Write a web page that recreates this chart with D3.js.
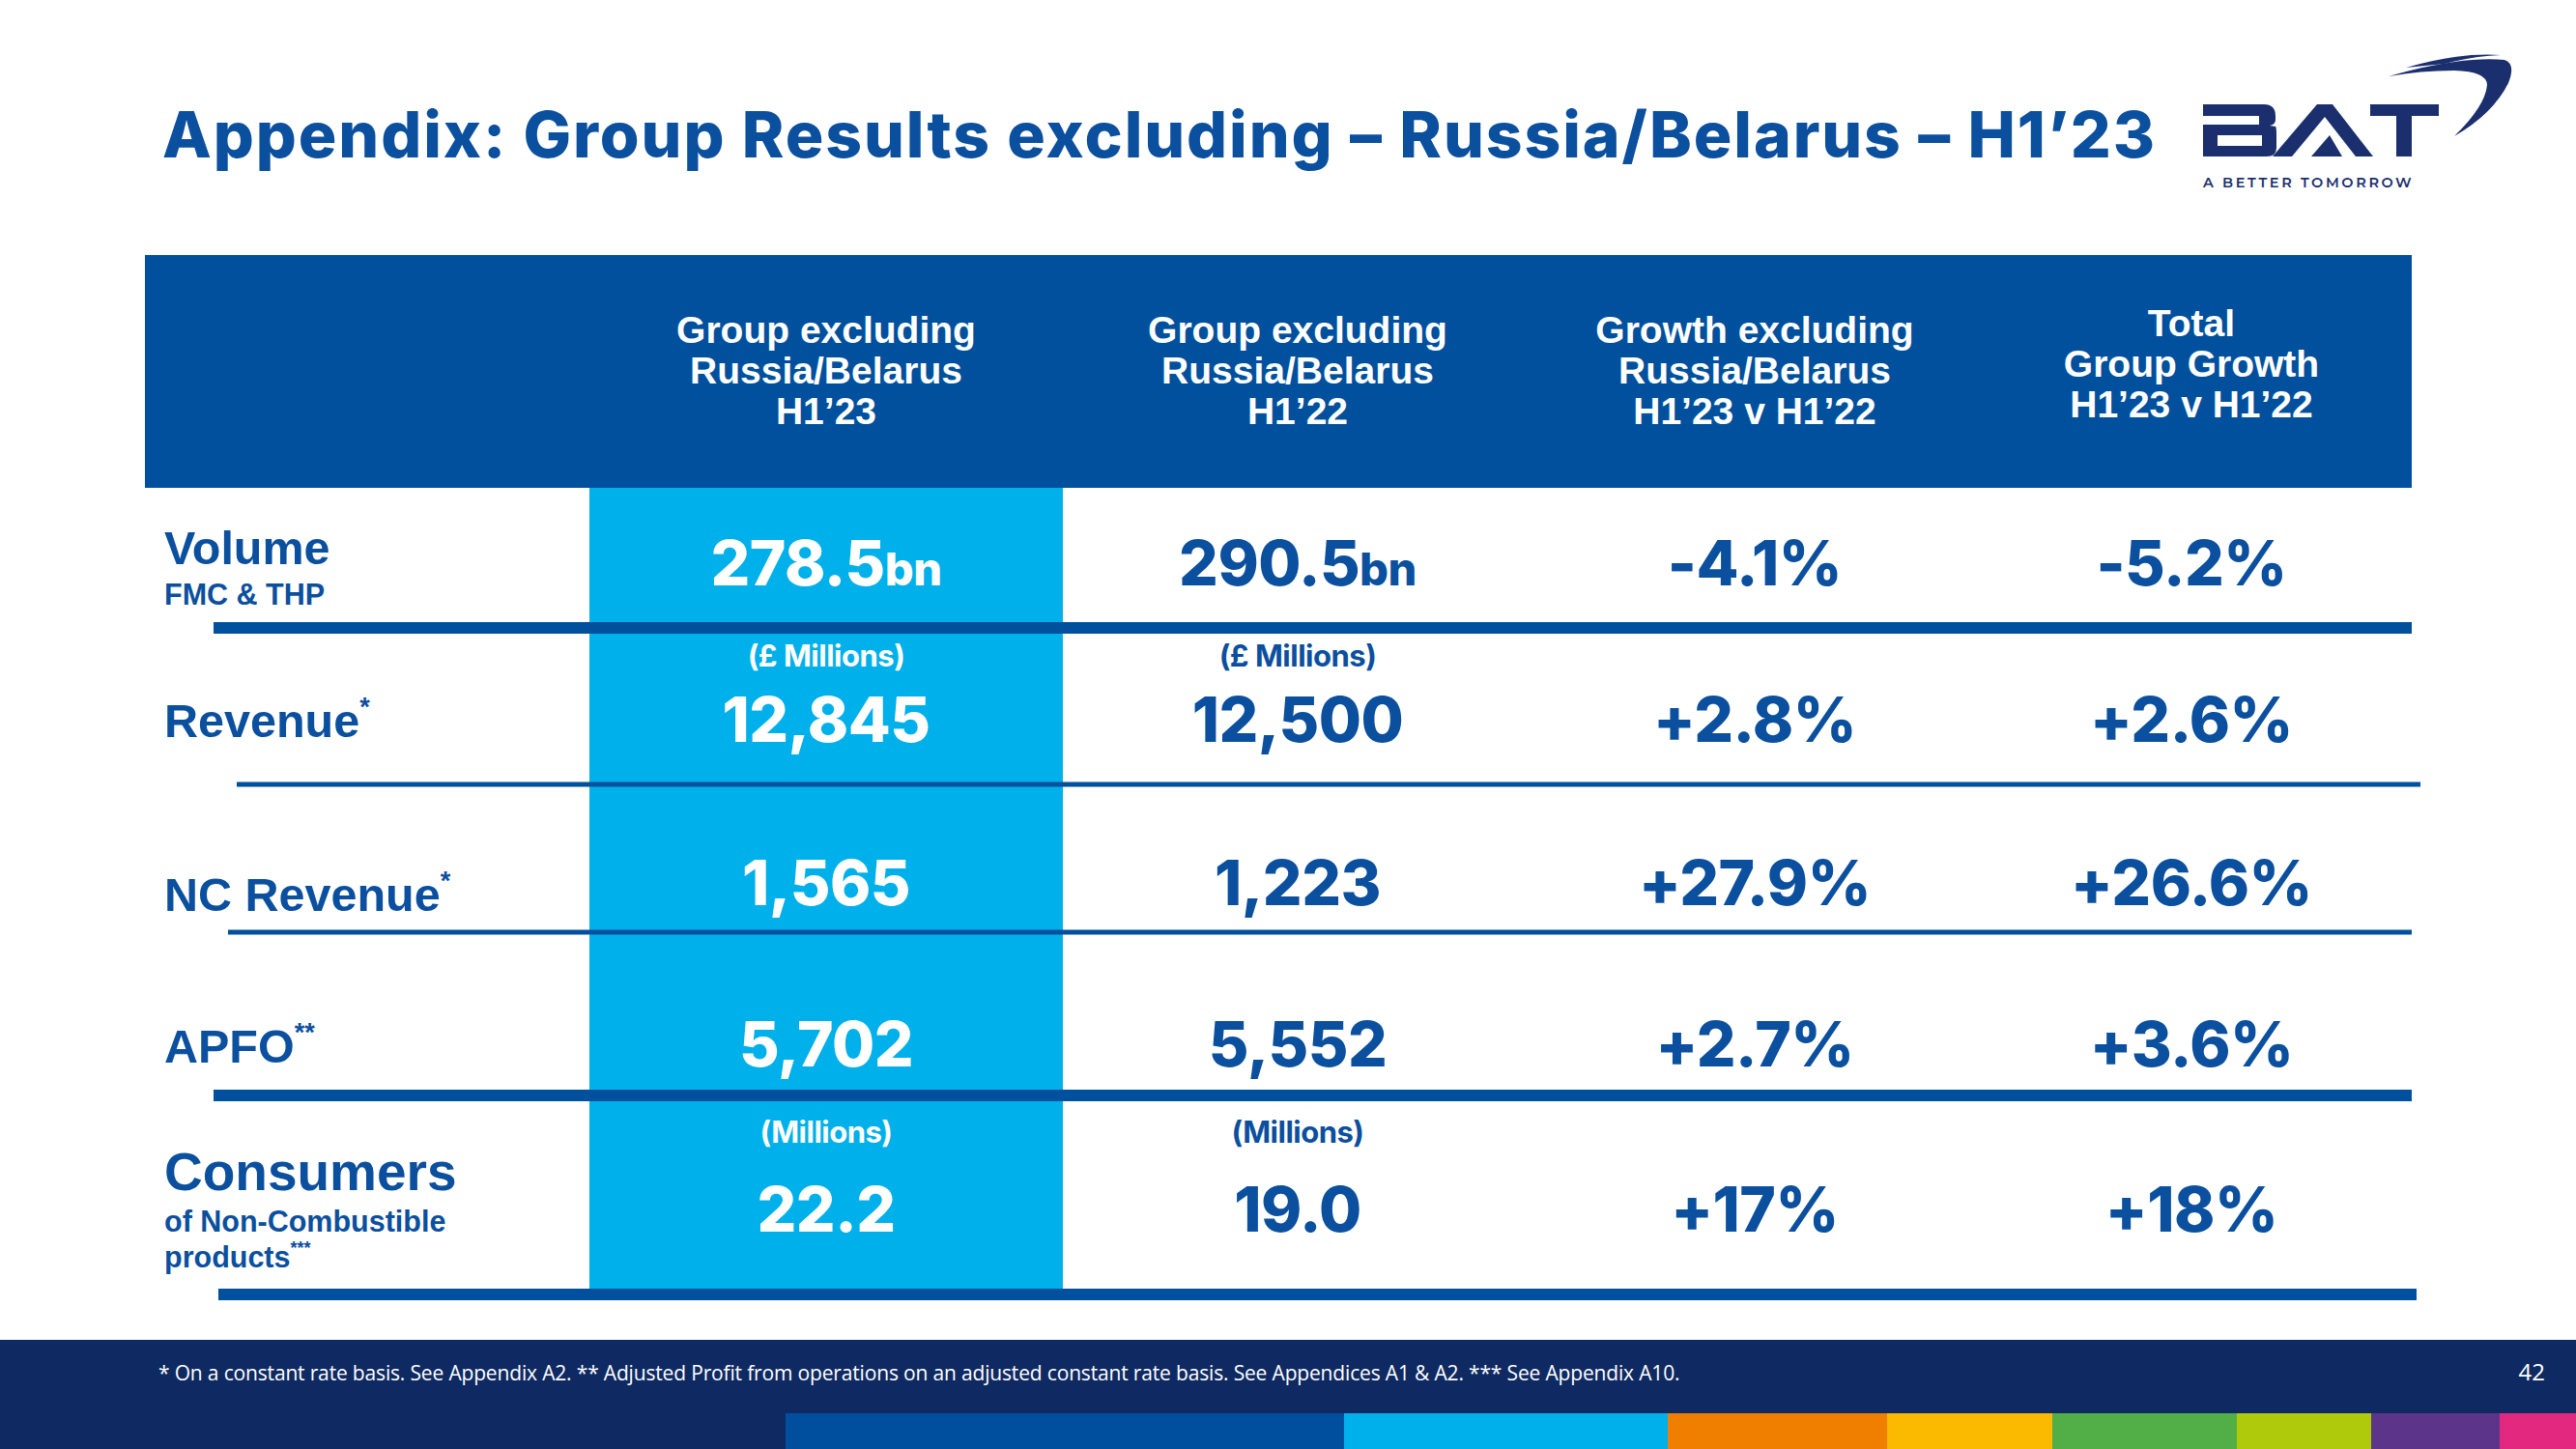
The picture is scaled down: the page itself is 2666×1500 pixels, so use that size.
<!DOCTYPE html>
<html>
<head>
<meta charset="utf-8">
<script src="https://cdn.jsdelivr.net/npm/d3@7"></script>
<style>
  html, body { margin: 0; padding: 0; background: #ffffff; }
  svg { display: block; }
</style>
</head>
<body>
<script>
// ---------------- DATA ----------------
const titleText = "Appendix: Group Results excluding – Russia/Belarus – H1’23";
const columnKeys = ["h123", "h122", "growthExcl", "growthTotal"];
const columnHeaders = [
  ["Group excluding", "Russia/Belarus", "H1’23"],
  ["Group excluding", "Russia/Belarus", "H1’22"],
  ["Growth excluding", "Russia/Belarus", "H1’23 v H1’22"],
  ["Total", "Group Growth", "H1’23 v H1’22"]
];
const metrics = ["Volume", "Revenue", "NC Revenue", "APFO", "Consumers"];
const metricMarks = ["", "*", "*", "**", ""];
const metricSubLabels = [["FMC & THP"], [], [], [], ["of Non-Combustible", "products"]];
const metricSubMarks = [[""], [], [], [], ["", "***"]];
const valuesH123 = ["278.5", "12,845", "1,565", "5,702", "22.2"];
const valuesH122 = ["290.5", "12,500", "1,223", "5,552", "19.0"];
const valueUnits = ["bn", "", "", "", ""];
const unitNotes = ["", "(£ Millions)", "", "", "(Millions)"];
const growthExcl = ["-4.1%", "+2.8%", "+27.9%", "+2.7%", "+17%"];
const growthTotal = ["-5.2%", "+2.6%", "+26.6%", "+3.6%", "+18%"];
const footnoteText = "*  On a constant rate basis.  See Appendix A2. ** Adjusted Profit from operations on an adjusted constant rate basis.  See Appendices A1 & A2. *** See Appendix A10.";
const pageNumber = "42";
const stripeColors = ["#004f9f", "#00b0ea", "#f07f00", "#fbb900", "#52ae46", "#afca0b", "#5c358a", "#e3287f"];

// ---------------- STYLE / LAYOUT ----------------
const W = 2666, H = 1500;
const BLUE = "#0b4f9f", HEADER = "#00509e", LIGHT = "#00b0ea", NAVY = "#0f2a62", LOGO = "#1b2f6e";
const LABEL_FONT = "'Liberation Sans', Arial, sans-serif";
const NUM_FONT = "Inter, 'Open Sans', sans-serif";
const TITLE_FONT = "Inter, 'Open Sans', sans-serif";

const svg = d3.select("body").append("svg").attr("width", W).attr("height", H);

// scales
const colX = d3.scaleOrdinal().domain(columnKeys).range([855, 1343, 1816, 2268]);
const colLeft = d3.scaleOrdinal().domain(columnKeys).range([610, 1100, 1580, 2050]);
const valueY = d3.scaleOrdinal().domain(metrics).range([606, 768, 937, 1104, 1275]);
const labelY = d3.scaleOrdinal().domain(metrics).range([584, 763, 943, 1100, 1232]);
const noteY = d3.scaleOrdinal().domain(metrics).range([0, 690, 0, 0, 1183]);
const headerLineY = d3.scaleOrdinal().domain([0, 1, 2]).range([355, 397, 439]);
const headerLineYLast = d3.scaleOrdinal().domain([0, 1, 2]).range([348, 390, 432]);
const stripeX = d3.scaleOrdinal().domain(d3.range(stripeColors.length))
  .range([813, 1391, 1726, 1953, 2124, 2315, 2454, 2587]);

function fitWidth(sel, target) {
  const n = sel.text().length;
  const w = sel.node().getComputedTextLength();
  sel.attr("letter-spacing", (target - w) / Math.max(1, n - 1));
}

// ---------------- TITLE ----------------
const title = svg.append("text")
  .attr("x", 168).attr("y", 163)
  .attr("font-family", TITLE_FONT).attr("font-weight", 800)
  .attr("font-size", 66).attr("fill", BLUE)
  .text(titleText);
fitWidth(title, 2062);

// ---------------- LOGO ----------------
const logo = svg.append("g").attr("fill", LOGO);
// B
logo.append("path").attr("d",
  "M2280,108 L2343,108 Q2355,108 2355,120 L2355,124 Q2355,129 2349,130 L2355,131 Q2356,131 2356,140 L2356,153 Q2356,162 2346,162 L2280,162 Z " +
  "M2295,140 L2341,140 L2341,151 L2295,151 Z " +
  "M2280,120 L2338,120 L2338,129 L2280,129 Z")
  .attr("fill-rule", "evenodd");
// A
logo.append("path").attr("d",
  "M2352,162 L2398,108 L2414,108 L2456,162 L2438,162 L2406,121 L2372,162 Z " +
  "M2392,162 L2411,140 L2424,162 Z");
// T
logo.append("path").attr("d", "M2453,108 L2524,108 L2524,120 L2496,120 L2496,162 L2480,162 L2480,120 L2453,120 Z");
// swoosh
logo.append("path").attr("d",
  "M2472,79 Q2545,58 2592,62 Q2604,66 2596,86 Q2580,118 2540,141 Q2572,110 2574,88 Q2574,74 2540,73 Q2505,73 2472,79 Z");
logo.append("path").attr("d",
  "M2490,70 Q2545,54 2588,57 Q2560,58 2530,66 Z");
svg.append("text")
  .attr("x", 2280).attr("y", 194)
  .attr("font-family", "Montserrat, 'Open Sans', sans-serif").attr("font-weight", 600)
  .attr("font-size", 14.5).attr("letter-spacing", 2.6).attr("fill", LOGO)
  .text("A BETTER TOMORROW");

// ---------------- HEADER ----------------
svg.append("rect").attr("x", 150).attr("y", 264).attr("width", 2346).attr("height", 241).attr("fill", HEADER);
const headG = svg.append("g")
  .attr("font-family", LABEL_FONT).attr("font-weight", 700).attr("font-size", 39)
  .attr("fill", "#ffffff").attr("text-anchor", "middle");
columnKeys.forEach((k, ci) => {
  columnHeaders[ci].forEach((line, li) => {
    headG.append("text")
      .attr("x", colX(k))
      .attr("y", ci === 3 ? headerLineYLast(li) : headerLineY(li))
      .text(line);
  });
});

// ---------------- HIGHLIGHT COLUMN ----------------
svg.append("rect")
  .attr("x", colLeft("h123")).attr("y", 505)
  .attr("width", colLeft("h122") - colLeft("h123")).attr("height", 830)
  .attr("fill", LIGHT);

// ---------------- DIVIDERS ----------------
const dividers = [
  { x1: 221, x2: 2496, y: 650, w: 12 },
  { x1: 245, x2: 2505, y: 812, w: 5 },
  { x1: 236, x2: 2496, y: 965, w: 5 },
  { x1: 221, x2: 2496, y: 1134, w: 12 },
  { x1: 226, x2: 2501, y: 1340, w: 12 }
];
svg.append("g").selectAll("rect").data(dividers).join("rect")
  .attr("x", d => d.x1).attr("y", d => d.y - d.w / 2)
  .attr("width", d => d.x2 - d.x1).attr("height", d => d.w)
  .attr("fill", HEADER);

// ---------------- ROW LABELS ----------------
const labG = svg.append("g").attr("font-family", LABEL_FONT).attr("font-weight", 700).attr("fill", BLUE);
metrics.forEach((m, i) => {
  const t = labG.append("text")
    .attr("x", 170).attr("y", labelY(m))
    .attr("font-size", m === "Consumers" ? 55 : 48.5);
  t.append("tspan").text(m);
  if (metricMarks[i]) {
    t.append("tspan").attr("font-size", 27).attr("dy", -22).text(metricMarks[i]);
  }
  metricSubLabels[i].forEach((s, j) => {
    const base = m === "Consumers" ? 1275 : 626;
    const st = labG.append("text")
      .attr("x", 170).attr("y", base + j * 37)
      .attr("font-size", 30.5);
    st.append("tspan").text(s);
    if (metricSubMarks[i][j]) st.append("tspan").attr("font-size", 18).attr("dy", -14).text(metricSubMarks[i][j]);
  });
});

// ---------------- VALUES ----------------
const valG = svg.append("g").attr("font-family", NUM_FONT).attr("font-weight", 800).attr("text-anchor", "middle");
function valueCell(key, vals, color) {
  metrics.forEach((m, i) => {
    const t = valG.append("text")
      .attr("x", colX(key)).attr("y", valueY(m))
      .attr("font-size", 64).attr("fill", color)
      .attr("letter-spacing", -0.5);
    t.append("tspan").text(vals[i]);
    if (valueUnits[i] && (key === "h123" || key === "h122")) {
      t.append("tspan").attr("font-size", 47).attr("letter-spacing", -0.5).text(valueUnits[i]);
    }
    if (unitNotes[i] && (key === "h123" || key === "h122")) {
      valG.append("text")
        .attr("x", colX(key)).attr("y", noteY(m))
        .attr("font-size", 31).attr("font-weight", 700).attr("fill", color)
        .attr("letter-spacing", -0.5)
        .text(unitNotes[i]);
    }
  });
}
valueCell("h123", valuesH123, "#ffffff");
valueCell("h122", valuesH122, BLUE);
valueCell("growthExcl", growthExcl, BLUE);
valueCell("growthTotal", growthTotal, BLUE);

// ---------------- FOOTER ----------------
svg.append("rect").attr("x", 0).attr("y", 1387).attr("width", W).attr("height", H - 1387).attr("fill", NAVY);
const fn = svg.append("text")
  .attr("x", 164).attr("y", 1429)
  .attr("font-family", "'Open Sans', sans-serif").attr("font-weight", 400)
  .attr("font-size", 21).attr("fill", "#ffffff")
  .text(footnoteText);
fitWidth(fn, 1574);
svg.append("text")
  .attr("x", 2634).attr("y", 1429).attr("text-anchor", "end")
  .attr("font-family", "'Open Sans', sans-serif").attr("font-size", 24).attr("fill", "#ffffff")
  .text(pageNumber);

const stripeEnds = d3.range(stripeColors.length).map(i => i < stripeColors.length - 1 ? stripeX(i + 1) : W);
svg.append("g").selectAll("rect").data(stripeColors).join("rect")
  .attr("x", (d, i) => stripeX(i)).attr("y", 1463)
  .attr("width", (d, i) => stripeEnds[i] - stripeX(i)).attr("height", H - 1463)
  .attr("fill", d => d);
</script>
</body>
</html>
